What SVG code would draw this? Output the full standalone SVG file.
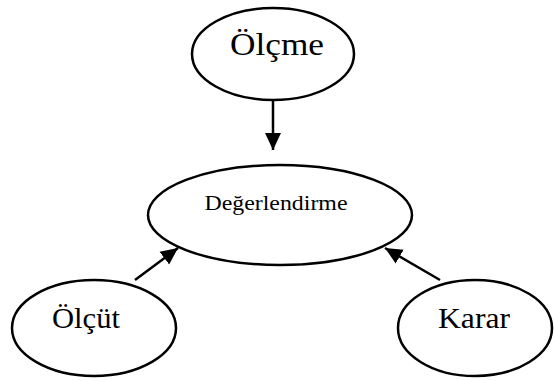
<svg xmlns="http://www.w3.org/2000/svg" width="554" height="381" viewBox="0 0 554 381">
<style>
.node ellipse{fill:#fff;stroke:#000;stroke-width:2.5}
.lbl{font-family:"Liberation Serif","Times New Roman",serif;fill:#000;text-anchor:middle}
.edge{stroke:#000;stroke-width:2.5;fill:none;marker-end:url(#ah)}
</style>
<defs>
<marker id="ah" markerUnits="userSpaceOnUse" markerWidth="18" markerHeight="18" viewBox="0 0 18 18" refX="17" refY="9" orient="auto">
<path d="M0,1 L17,9 L0,17 Z" fill="#000"/>
</marker>
</defs>
<rect width="554" height="381" fill="#fff"/>
<g id="connectors">
<line class="edge" x1="273" y1="100" x2="273" y2="150"/>
<line class="edge" x1="135" y1="280" x2="178" y2="248"/>
<line class="edge" x1="440" y1="280" x2="385" y2="248"/>
</g>
<g id="olcme" class="node">
<ellipse cx="273" cy="54" rx="81" ry="46"/>
<text class="lbl" x="277" y="55" font-size="31" textLength="94" lengthAdjust="spacingAndGlyphs">Ölçme</text>
</g>
<g id="degerlendirme" class="node">
<ellipse cx="280" cy="215" rx="132" ry="50"/>
<text class="lbl" x="276" y="210" font-size="20" textLength="143" lengthAdjust="spacingAndGlyphs">Değerlendirme</text>
</g>
<g id="olcut" class="node">
<ellipse cx="94" cy="328" rx="82" ry="48"/>
<text class="lbl" x="86" y="328" font-size="30" textLength="68" lengthAdjust="spacingAndGlyphs">Ölçüt</text>
</g>
<g id="karar" class="node">
<ellipse cx="475" cy="328" rx="77" ry="48"/>
<text class="lbl" x="474" y="328" font-size="30" textLength="72" lengthAdjust="spacingAndGlyphs">Karar</text>
</g>
</svg>
